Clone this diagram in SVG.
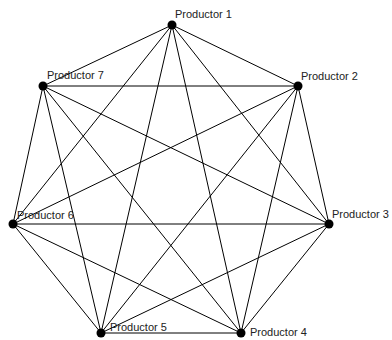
<svg xmlns="http://www.w3.org/2000/svg" width="392" height="340" viewBox="0 0 392 340">
<style>
.e{stroke:#000;stroke-width:1;fill:none}
.n{fill:#000}
.t{font-family:"Liberation Sans",Arial,sans-serif;font-size:11px;fill:#222}
</style>
<rect width="392" height="340" fill="#fff"/>
<g id="connectors" class="e">
<line x1="172" y1="25" x2="298" y2="86"/>
<line x1="172" y1="25" x2="329" y2="224"/>
<line x1="172" y1="25" x2="241" y2="333"/>
<line x1="172" y1="25" x2="101" y2="333"/>
<line x1="172" y1="25" x2="13" y2="224"/>
<line x1="172" y1="25" x2="43" y2="86"/>
<line x1="298" y1="86" x2="329" y2="224"/>
<line x1="298" y1="86" x2="241" y2="333"/>
<line x1="298" y1="86" x2="101" y2="333"/>
<line x1="298" y1="86" x2="13" y2="224"/>
<line x1="298" y1="86" x2="43" y2="86"/>
<line x1="329" y1="224" x2="241" y2="333"/>
<line x1="329" y1="224" x2="101" y2="333"/>
<line x1="329" y1="224" x2="13" y2="224"/>
<line x1="329" y1="224" x2="43" y2="86"/>
<line x1="241" y1="333" x2="101" y2="333"/>
<line x1="241" y1="333" x2="13" y2="224"/>
<line x1="241" y1="333" x2="43" y2="86"/>
<line x1="101" y1="333" x2="13" y2="224"/>
<line x1="101" y1="333" x2="43" y2="86"/>
<line x1="13" y1="224" x2="43" y2="86"/>
</g>
<g id="p1"><circle class="n" cx="172" cy="25" r="4.5"/><text class="t" x="175" y="18">Productor 1</text></g>
<g id="p2"><circle class="n" cx="298" cy="86" r="4.5"/><text class="t" x="301" y="80">Productor 2</text></g>
<g id="p3"><circle class="n" cx="329" cy="224" r="4.5"/><text class="t" x="332" y="218">Productor 3</text></g>
<g id="p4"><circle class="n" cx="241" cy="333" r="4.5"/><text class="t" x="250" y="336">Productor 4</text></g>
<g id="p5"><circle class="n" cx="101" cy="333" r="4.5"/><text class="t" x="110" y="331">Productor 5</text></g>
<g id="p6"><circle class="n" cx="13" cy="224" r="4.5"/><text class="t" x="17" y="219">Productor 6</text></g>
<g id="p7"><circle class="n" cx="43" cy="86" r="4.5"/><text class="t" x="47" y="79">Productor 7</text></g>
</svg>
